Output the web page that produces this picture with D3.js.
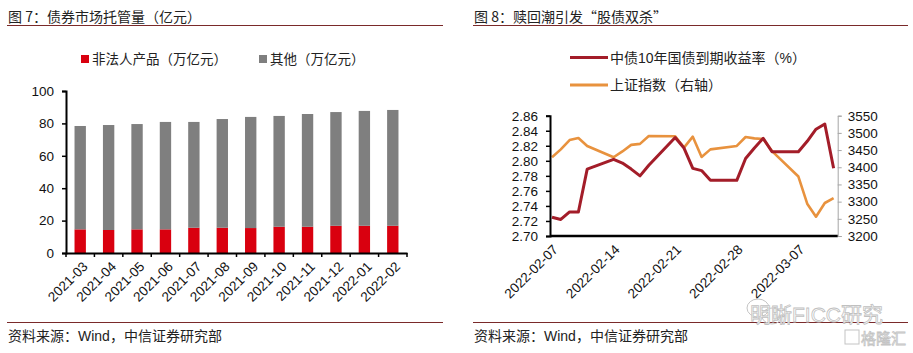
<!DOCTYPE html>
<html>
<head>
<meta charset="utf-8">
<script src="https://cdn.jsdelivr.net/npm/d3@7"></script>
<style>
  body { margin: 0; background: #fff; }
  svg { display: block; font-family: "Liberation Sans", "Noto Sans CJK SC", sans-serif; }
</style>
</head>
<body>
<div id="chart"></div>
<script>
// ---- data: figure 7 ----
var months = ["2021-03", "2021-04", "2021-05", "2021-06", "2021-07", "2021-08",
              "2021-09", "2021-10", "2021-11", "2021-12", "2022-01", "2022-02"];
var nonLegal = [14.6, 14.2, 14.6, 14.6, 15.6, 15.6, 15.4, 16.2, 16.2, 16.8, 16.8, 16.8];
var others = [63.8, 64.8, 65.0, 66.3, 65.3, 67.1, 68.6, 68.4, 69.6, 70.2, 70.9, 71.5];
var barTicks = [0, 20, 40, 60, 80, 100];

// ---- data: figure 8 ----
var tradeDates = ["2022-02-07", "2022-02-08", "2022-02-09", "2022-02-10", "2022-02-11",
                  "2022-02-14", "2022-02-15", "2022-02-16", "2022-02-17", "2022-02-18",
                  "2022-02-21", "2022-02-22", "2022-02-23", "2022-02-24", "2022-02-25",
                  "2022-02-28", "2022-03-01", "2022-03-02", "2022-03-03", "2022-03-04",
                  "2022-03-07", "2022-03-08", "2022-03-09", "2022-03-10", "2022-03-11"];
var yield10y = [2.725, 2.722, 2.732, 2.732, 2.789,
                2.802, 2.797, 2.789, 2.780, 2.794,
                2.831, 2.817, 2.790, 2.787, 2.774,
                2.774, 2.803, 2.817, 2.830, 2.812,
                2.812, 2.826, 2.842, 2.849, 2.790];
var shIndex = [3429, 3452, 3479, 3485, 3462,
               3429, 3446, 3465, 3468, 3491,
               3490, 3457, 3489, 3430, 3452,
               3462, 3488, 3484, 3482, 3447,
               3373, 3294, 3256, 3296, 3310];
var dateTicks = ["2022-02-07", "2022-02-14", "2022-02-21", "2022-02-28", "2022-03-07"];
var yieldTicks = [2.70, 2.72, 2.74, 2.76, 2.78, 2.80, 2.82, 2.84, 2.86];
var indexTicks = [3200, 3250, 3300, 3350, 3400, 3450, 3500, 3550];

var RED_BAR = "#d9000f", GRAY_BAR = "#7f7f7f";
var RED_LINE = "#a31d29", ORANGE_LINE = "#e8923e";
var RULE = "#7a2a2a";
var NUM_FONT = "'Liberation Sans', Arial, sans-serif";

var svg = d3.select("#chart").append("svg")
  .attr("width", 913)
  .attr("height", 353);

// titles, rules and footers for both panels
function panelFrame(x0, x1, title) {
  svg.append("text")
    .attr("x", x0 + 1).attr("y", 22)
    .style("font-size", "14px").attr("fill", "#222")
    .style("font-family", "'Noto Sans CJK SC', sans-serif")
    .text(title);
  svg.append("line")
    .attr("x1", x0).attr("x2", x1).attr("y1", 25.5).attr("y2", 25.5)
    .attr("stroke", RULE).attr("stroke-width", 1);
  svg.append("line")
    .attr("x1", x0).attr("x2", x1).attr("y1", 322.5).attr("y2", 322.5)
    .attr("stroke", RULE).attr("stroke-width", 1);
  svg.append("text")
    .attr("x", x0 + 1).attr("y", 341)
    .style("font-size", "14px").attr("fill", "#222")
    .text("资料来源：Wind，中信证券研究部");
}
panelFrame(7, 443, "图 7：债券市场托管量（亿元）");
panelFrame(473, 908, "图 8：赎回潮引发“股债双杀”");

// ================= figure 7: stacked bars =================
var m1 = {left: 66, top: 91, width: 341, height: 162};
var g1 = svg.append("g").attr("transform", "translate(" + m1.left + "," + m1.top + ")");

var x1 = d3.scaleBand()
  .domain(months)
  .range([0, m1.width])
  .paddingInner(0.6)
  .paddingOuter(0.3);

var y1 = d3.scaleLinear()
  .domain([0, 100])
  .range([m1.height, 0]);

// bars
g1.append("g").selectAll("rect")
  .data(months)
  .enter().append("rect")
  .attr("x", d => x1(d))
  .attr("width", x1.bandwidth())
  .attr("y", (d, i) => y1(nonLegal[i]))
  .attr("height", (d, i) => y1(0) - y1(nonLegal[i]))
  .attr("fill", RED_BAR);

g1.append("g").selectAll("rect")
  .data(months)
  .enter().append("rect")
  .attr("x", d => x1(d))
  .attr("width", x1.bandwidth())
  .attr("y", (d, i) => y1(nonLegal[i] + others[i]))
  .attr("height", (d, i) => y1(nonLegal[i]) - y1(nonLegal[i] + others[i]))
  .attr("fill", GRAY_BAR);

// y axis
var yAx1 = g1.append("g")
  .call(d3.axisLeft(y1).tickValues(barTicks).tickSize(4).tickPadding(8));
yAx1.select(".domain").attr("stroke", "#000").attr("stroke-width", 2);
yAx1.selectAll(".tick line").attr("stroke", "#000").attr("stroke-width", 1.5);
yAx1.selectAll("text").style("font-size", "13.5px").attr("fill", "#111")
  .style("font-family", NUM_FONT);

// x axis with ticks between categories
var xAx1 = g1.append("g")
  .attr("transform", "translate(0," + m1.height + ")")
  .call(d3.axisBottom(x1).tickSize(0).tickPadding(0));
xAx1.select(".domain").attr("stroke", "#000").attr("stroke-width", 2);
xAx1.selectAll("text")
  .style("font-size", "13.5px").attr("fill", "#111")
  .style("font-family", NUM_FONT)
  .attr("text-anchor", "end")
  .attr("dy", "0.35em")
  .attr("transform", "translate(5,11) rotate(-45)");
var boundaries = months.map(d => x1(d) - x1.step() * 0.3).concat([m1.width]);
xAx1.selectAll(".sep")
  .data(boundaries)
  .enter().append("line")
  .attr("class", "sep")
  .attr("x1", d => d).attr("x2", d => d)
  .attr("y1", 0).attr("y2", 4)
  .attr("stroke", "#000").attr("stroke-width", 1.5);

// legend
var leg1 = [
  {label: "非法人产品（万亿元）", color: RED_BAR, x: 81},
  {label: "其他（万亿元）", color: GRAY_BAR, x: 259}
];
leg1.forEach(function(l) {
  svg.append("rect")
    .attr("x", l.x).attr("y", 55)
    .attr("width", 8).attr("height", 8)
    .attr("fill", l.color);
  svg.append("text")
    .attr("x", l.x + 11).attr("y", 64)
    .style("font-size", "13.5px").attr("fill", "#222")
    .text(l.label);
});

// ================= figure 8: dual axis lines =================
var m2 = {left: 550, top: 115.7, width: 287.7, height: 120.3};
var g2 = svg.append("g").attr("transform", "translate(" + m2.left + "," + m2.top + ")");

var parse = d3.timeParse("%Y-%m-%d");
var dates = tradeDates.map(parse);

var x2 = d3.scaleTime()
  .domain([parse("2022-02-07"), parse("2022-03-11")])
  .range([2, 283.6]);

var yL = d3.scaleLinear().domain([2.70, 2.86]).range([m2.height, 0]);
var yR = d3.scaleLinear().domain([3200, 3550]).range([m2.height, 0]);

// lines (index first so yield sits on top)
var lineIdx = d3.line().x((d, i) => x2(dates[i])).y(d => yR(d));
var lineYld = d3.line().x((d, i) => x2(dates[i])).y(d => yL(d));

g2.append("path")
  .datum(shIndex)
  .attr("d", lineIdx)
  .attr("fill", "none")
  .attr("stroke", ORANGE_LINE)
  .attr("stroke-width", 2.6)
  .attr("stroke-linejoin", "round");

g2.append("path")
  .datum(yield10y)
  .attr("d", lineYld)
  .attr("fill", "none")
  .attr("stroke", RED_LINE)
  .attr("stroke-width", 3)
  .attr("stroke-linejoin", "round");

// left axis
var axL = g2.append("g")
  .call(d3.axisLeft(yL).tickValues(yieldTicks).tickFormat(d3.format(".2f")).tickSize(4).tickPadding(8));
axL.select(".domain").attr("stroke", "#000").attr("stroke-width", 2);
axL.selectAll(".tick line").attr("stroke", "#000").attr("stroke-width", 1.5);
axL.selectAll("text").style("font-size", "13.5px").attr("fill", "#111")
  .style("font-family", NUM_FONT);

// right axis
var axR = g2.append("g")
  .attr("transform", "translate(" + m2.width + ",0)")
  .call(d3.axisRight(yR).tickValues(indexTicks).tickFormat(d3.format("d")).tickSize(4).tickPadding(6));
axR.select(".domain").attr("stroke", "#a6a6a6").attr("stroke-width", 1);
axR.selectAll(".tick line").attr("stroke", "#a6a6a6");
axR.selectAll("text").style("font-size", "13.5px").attr("fill", "#111")
  .style("font-family", NUM_FONT);

// x axis
var axB = g2.append("g")
  .attr("transform", "translate(0," + m2.height + ")")
  .call(d3.axisBottom(x2).tickValues(dateTicks.map(parse)).tickFormat(d3.timeFormat("%Y-%m-%d")).tickSize(0).tickPadding(0));
axB.select(".domain").remove();
axB.append("line")
  .attr("x1", 0).attr("x2", m2.width)
  .attr("stroke", "#000").attr("stroke-width", 2.5);
axB.selectAll("text")
  .style("font-size", "13.5px").attr("fill", "#111")
  .style("font-family", NUM_FONT)
  .attr("text-anchor", "end")
  .attr("dy", "0.35em")
  .attr("transform", "translate(3,11) rotate(-45)");

// legend
var leg2 = [
  {label: "中债10年国债到期收益率（%）", color: RED_LINE, y: 57.5},
  {label: "上证指数（右轴）", color: ORANGE_LINE, y: 85}
];
leg2.forEach(function(l) {
  svg.append("line")
    .attr("x1", 570).attr("x2", 608)
    .attr("y1", l.y).attr("y2", l.y)
    .attr("stroke", l.color).attr("stroke-width", 3);
  svg.append("text")
    .attr("x", 610).attr("y", l.y + 5)
    .style("font-size", "14px").attr("fill", "#222")
    .text(l.label);
});

// faint watermark
var wm = svg.append("g").attr("fill", "none").attr("stroke", "#c4c4c4").attr("stroke-width", 1);
wm.append("ellipse").attr("cx", 758).attr("cy", 308).attr("rx", 11).attr("ry", 9);
wm.append("ellipse").attr("cx", 772).attr("cy", 316).attr("rx", 10).attr("ry", 8);
svg.append("text")
  .attr("x", 750).attr("y", 322)
  .style("font-size", "21px")
  .attr("fill", "#fff").attr("stroke", "#c0c0c0").attr("stroke-width", 0.8)
  .text("明晰FICC研究");
svg.append("rect")
  .attr("x", 845).attr("y", 330).attr("width", 14).attr("height", 14)
  .attr("fill", "none").attr("stroke", "#c4c4c4");
svg.append("text")
  .attr("x", 861).attr("y", 344)
  .style("font-size", "15px")
  .attr("fill", "#fff").attr("stroke", "#c4c4c4").attr("stroke-width", 0.8)
  .text("格隆汇");
</script>
</body>
</html>
